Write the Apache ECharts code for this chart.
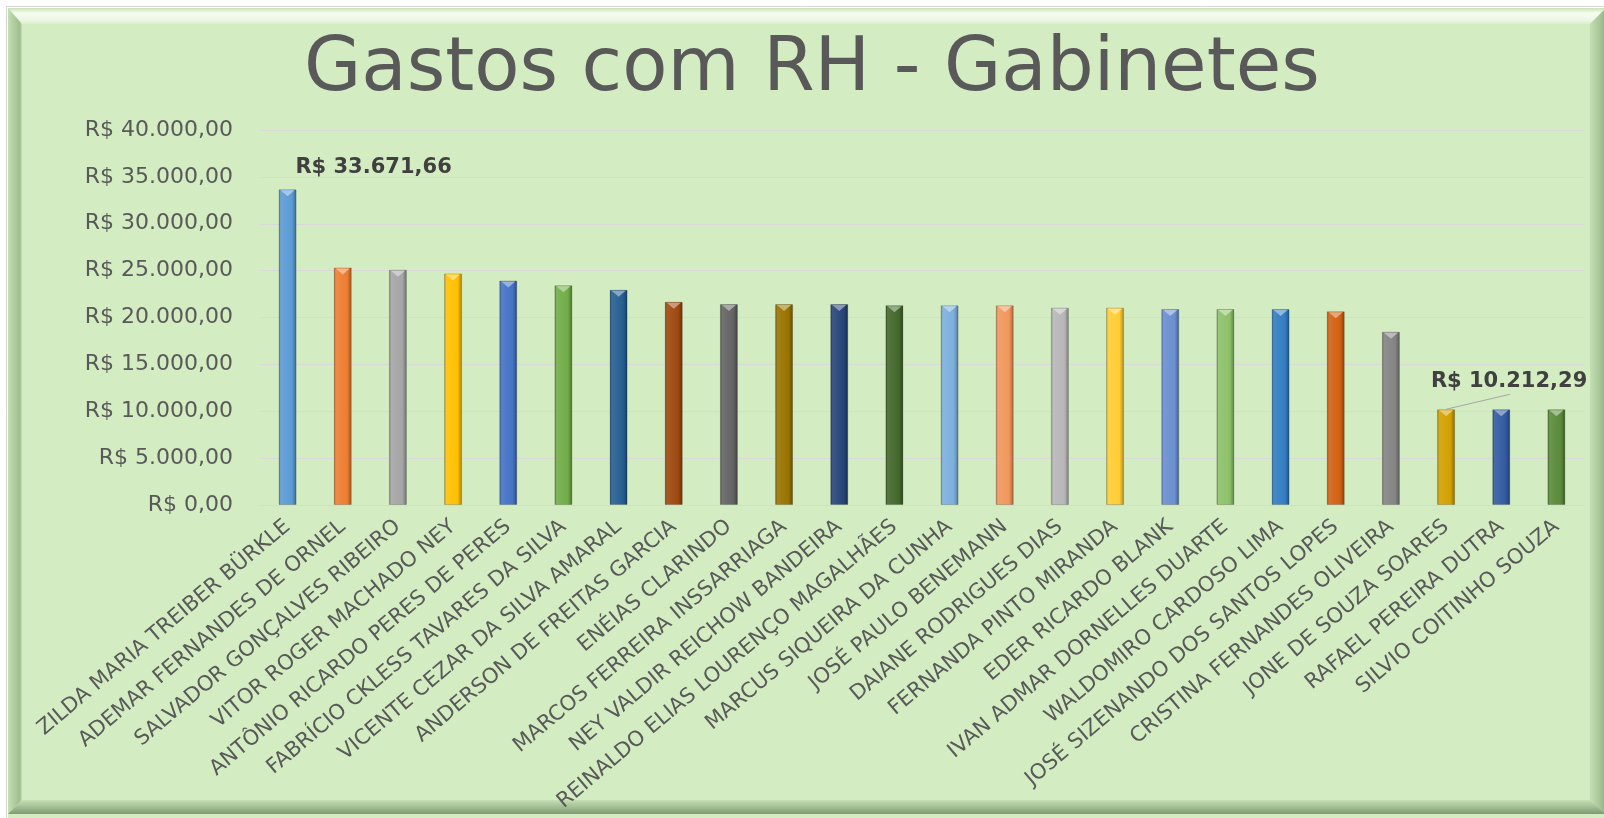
<!DOCTYPE html>
<html>
<head>
<meta charset="utf-8">
<script src="https://cdn.jsdelivr.net/npm/echarts@6/dist/echarts.min.js"></script>
<style>
html,body{margin:0;padding:0;background:#ffffff;}
#c{width:1604px;height:818px;}
</style>
</head>
<body>
<div id="c"></div>
<script>
const title = 'Gastos com RH - Gabinetes';
const categories = [
  'ZILDA MARIA TREIBER BÜRKLE',
  'ADEMAR FERNANDES DE ORNEL',
  'SALVADOR GONÇALVES RIBEIRO',
  'VITOR ROGER MACHADO NEY',
  'ANTÔNIO RICARDO PERES DE PERES',
  'FABRÍCIO CKLESS TAVARES DA SILVA',
  'VICENTE CEZAR DA SILVA AMARAL',
  'ANDERSON DE FREITAS GARCIA',
  'ENÉIAS CLARINDO',
  'MARCOS FERREIRA INSSARRIAGA',
  'NEY VALDIR REICHOW BANDEIRA',
  'REINALDO ELIAS LOURENÇO MAGALHÃES',
  'MARCUS SIQUEIRA DA CUNHA',
  'JOSÉ PAULO BENEMANN',
  'DAIANE RODRIGUES DIAS',
  'FERNANDA PINTO MIRANDA',
  'EDER RICARDO BLANK',
  'IVAN ADMAR DORNELLES DUARTE',
  'WALDOMIRO CARDOSO LIMA',
  'JOSÉ SIZENANDO DOS SANTOS LOPES',
  'CRISTINA FERNANDES OLIVEIRA',
  'JONE DE SOUZA SOARES',
  'RAFAEL PEREIRA DUTRA',
  'SILVIO COITINHO SOUZA'
];
const values = [
  33671.66, 25340.00, 25090.00, 24700.00, 23950.00, 23450.00,
  22960.00, 21680.00, 21430.00, 21430.00, 21430.00, 21320.00,
  21300.00, 21300.00, 21050.00, 21050.00, 20910.00, 20910.00,
  20910.00, 20660.00, 18490.00, 10212.29, 10212.29, 10212.29
];
const labeledIndices = [0, 21];
const leaderIndices = [21];
const yMin = 0, yMax = 40000, yInterval = 5000;
const palette = [
  '#5B9BD5','#ED7D31','#A5A5A5','#FFC000','#4472C4','#70AD47',
  '#255E91','#9E480E','#636363','#997300','#264478','#43682B',
  '#7CAFDD','#F1975A','#B7B7B7','#FFCD33','#698ED0','#8CC168',
  '#327DC2','#D26012','#848484','#D2A000','#335AA1','#5A8A39'
];

function shade(hex, f) {
  const n = parseInt(hex.slice(1), 16);
  let r = (n >> 16) & 255, g = (n >> 8) & 255, b = n & 255;
  const t = v => Math.max(0, Math.min(255, Math.round(f < 0 ? v * (1 + f) : v + (255 - v) * f)));
  return 'rgb(' + t(r) + ',' + t(g) + ',' + t(b) + ')';
}
function brl(v) {
  const neg = v < 0; v = Math.abs(v);
  let [ip, fp] = v.toFixed(2).split('.');
  ip = ip.replace(/\B(?=(\d{3})+(?!\d))/g, '.');
  return 'R$ ' + (neg ? '-' : '') + ip + ',' + fp;
}

const chart = echarts.init(document.getElementById('c'), null, {renderer: 'canvas'});

const barData = values.map((v, i) => {
  const item = {value: v};
  if (labeledIndices.indexOf(i) >= 0) item.label = {show: true};
  return item;
});
const leaderData = leaderIndices.map(i => [i, values[i]]);

const F = 'DejaVu Sans';
const option = {
  animation: false,
  backgroundColor: '#ffffff',
  title: {
    text: title,
    left: 304,
    top: 34,
    padding: 0,
    textStyle: {fontFamily: F, fontSize: 74, fontWeight: 'normal', color: '#595959'}
  },
  graphic: [
    {type: 'rect', z: -100, shape: {x: 6.5, y: 6.5, width: 1620, height: 820}, style: {fill: 'none', stroke: '#d6d6d6', lineWidth: 1}},
    {type: 'rect', z: -100, shape: {x: 8, y: 8, width: 1600, height: 812}, style: {fill: '#D3ECC2'}},
    {type: 'polygon', z: -99, shape: {points: [[8, 8], [1606, 8], [1590, 24], [22, 24]]},
      style: {fill: new echarts.graphic.LinearGradient(0, 0, 0, 1, [
        {offset: 0, color: '#c8e2b7'}, {offset: 0.3, color: '#f4fbef'}, {offset: 0.7, color: '#eef8e7'}, {offset: 1, color: '#dcefcf'}])}},
    {type: 'polygon', z: -99, shape: {points: [[8, 8], [22, 24], [22, 800], [8, 814]]},
      style: {fill: new echarts.graphic.LinearGradient(0, 0, 1, 0, [
        {offset: 0, color: '#c4dfb2'}, {offset: 0.5, color: '#aecb9d'}, {offset: 0.85, color: '#9fbd8f'}, {offset: 1, color: '#c6e0b5'}])}},
    {type: 'polygon', z: -99, shape: {points: [[1606, 8], [1606, 814], [1590, 800], [1590, 24]]},
      style: {fill: new echarts.graphic.LinearGradient(0, 0, 1, 0, [
        {offset: 0, color: '#c4dfb2'}, {offset: 0.6, color: '#a9c699'}, {offset: 1, color: '#93b084'}])}},
    {type: 'polygon', z: -99, shape: {points: [[8, 814], [22, 800], [1590, 800], [1606, 814]]},
      style: {fill: new echarts.graphic.LinearGradient(0, 0, 0, 1, [
        {offset: 0, color: '#c6dfb5'}, {offset: 0.5, color: '#a3bf94'}, {offset: 1, color: '#7f9a72'}])}}
  ],
  grid: {left: 260, right: 20, top: 130, bottom: 313, containLabel: false},
  xAxis: {
    type: 'category',
    data: categories,
    axisLine: {show: true, lineStyle: {color: '#d9d9d9', width: 1}},
    axisTick: {show: false},
    axisLabel: {interval: 0, rotate: 40, margin: 19, fontFamily: F, fontSize: 21, color: '#595959'}
  },
  yAxis: {
    type: 'value',
    min: yMin, max: yMax, interval: yInterval,
    axisLine: {show: false},
    axisTick: {show: false},
    splitLine: {lineStyle: {color: '#d9d9d9', width: 1}},
    axisLabel: {margin: 27, fontFamily: F, fontSize: 22, color: '#595959', formatter: v => brl(v)}
  },
  series: [
    {
      type: 'bar',
      data: barData,
      barWidth: 18,
      barGap: '-100%',
      itemStyle: {
        color: p => {
          const c = palette[p.dataIndex % palette.length];
          return new echarts.graphic.LinearGradient(0, 0, 1, 0, [
            {offset: 0, color: shade(c, -0.28)},
            {offset: 0.12, color: shade(c, 0.10)},
            {offset: 0.35, color: shade(c, 0.06)},
            {offset: 0.75, color: c},
            {offset: 1, color: shade(c, -0.35)}
          ]);
        },
        borderColor: 'rgba(0,0,0,0.18)',
        borderWidth: 1
      },
      label: {
        show: false,
        position: 'top',
        distance: 5,
        fontFamily: F, fontSize: 21, fontWeight: 'bold', color: '#404040',
        formatter: p => brl(p.value)
      },
      labelLayout: p => {
        if (p.dataIndex === 0) return {dx: 86, dy: -6};
        if (p.dataIndex === 21) return {dx: 63, dy: -12};
        return {};
      }
    },
    {
      type: 'pictorialBar',
      data: values,
      barWidth: 18,
      barGap: '-100%',
      symbol: 'triangle',
      symbolRotate: 180,
      symbolSize: [14, 6],
      symbolPosition: 'end',
      symbolOffset: [0, 1],
      silent: true,
      z: 3,
      itemStyle: {color: p => shade(palette[p.dataIndex % palette.length], 0.45)}
    },
    {
      type: 'custom',
      data: leaderData,
      silent: true,
      z: 4,
      renderItem: (params, api) => {
        const p = api.coord([api.value(0), api.value(1)]);
        return {
          type: 'line',
          shape: {x1: p[0], y1: p[1], x2: p[0] + 64, y2: p[1] - 15},
          style: {stroke: '#a6a6a6', lineWidth: 1}
        };
      }
    }
  ]
};
chart.setOption(option);
</script>
</body>
</html>
